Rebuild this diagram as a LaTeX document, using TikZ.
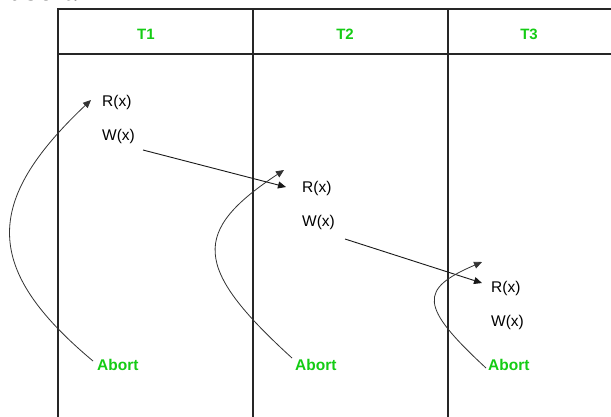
\documentclass[tikz,border=0pt]{standalone}
\usepackage{fontspec}
\setmainfont{Liberation Sans}
\newfontfamily\serifpart{Liberation Serif}
\usetikzlibrary{arrows.meta}
\definecolor{gfg}{RGB}{20,204,20}
\begin{document}
\begin{tikzpicture}[x=1pt,y=-1pt,
  grid/.style={draw=black!85,line width=1.1pt},
  op/.style={font=\fontsize{15.5}{18}\selectfont,inner sep=0pt,anchor=west},
  hdr/.style={font=\fontsize{15}{18}\selectfont\bfseries,text=gfg,inner sep=0pt},
  ab/.style={font=\fontsize{15.5}{18}\selectfont\bfseries,text=gfg,inner sep=0pt,anchor=west},
  link/.style={draw=black!90,line width=0.9pt,-{Triangle[length=8pt,width=7pt]}},
  back/.style={draw=black!80,line width=0.8pt,-{Triangle[length=8pt,width=7pt]}}]
\useasboundingbox (0,0) rectangle (611,416);
\clip (0,0) rectangle (611,416);
\fill[white] (0,0) rectangle (611,416);
% clipped caption fragment at top
\node[anchor=base west,inner sep=0pt,font=\serifpart\fontsize{30}{34}\selectfont] (frag) at (10,0.5) {abort.};
% table
\coordinate (tl) at (58,9);
\coordinate (tr) at (620,9);
\draw[grid] (58,425) -- (tl) -- (tr);
\draw[grid] (58,54) -- (620,54);
\draw[grid] (253,9) -- (253,425);
\draw[grid] (448,9) -- (448,425);
% headers
\node[hdr] (t1) at (146,34) {T1};
\node[hdr] (t2) at (345,34) {T2};
\node[hdr] (t3) at (529,34) {T3};
% operations
\node[op] (r1) at (102,102.5) {R(x)};
\node[op] (w1) at (102,136.5) {W(x)};
\node[op] (r2) at (302,188.5) {R(x)};
\node[op] (w2) at (302,222.5) {W(x)};
\node[op] (r3) at (491,288.5) {R(x)};
\node[op] (w3) at (491,322.5) {W(x)};
\node[ab] (a1) at (97,365) {Abort};
\node[ab] (a2) at (295,365) {Abort};
\node[ab] (a3) at (488,365) {Abort};
% coordinates for connector ends
\coordinate (w1e) at (143,150);
\coordinate (r2e) at (286,187);
\coordinate (w2e) at (345,239);
\coordinate (r3e) at (482,283);
\coordinate (a1s) at (93,361);
\coordinate (r1e) at (91,100);
\coordinate (a2s) at (292,358);
\coordinate (r2t) at (284,170);
\coordinate (a3s) at (486,368);
\coordinate (r3t) at (482,262);
% arrows
\draw[link] (w1e) -- (r2e);
\draw[link] (w2e) -- (r3e);
\draw[back] (a1s) .. controls (-17,269) and (-17,202) .. (r1e);
\draw[back] (a2s) .. controls (192,267) and (192,231) .. (r2t);
\draw[back] (a3s) .. controls (419,306) and (419,289) .. (r3t);
\end{tikzpicture}
\end{document}
